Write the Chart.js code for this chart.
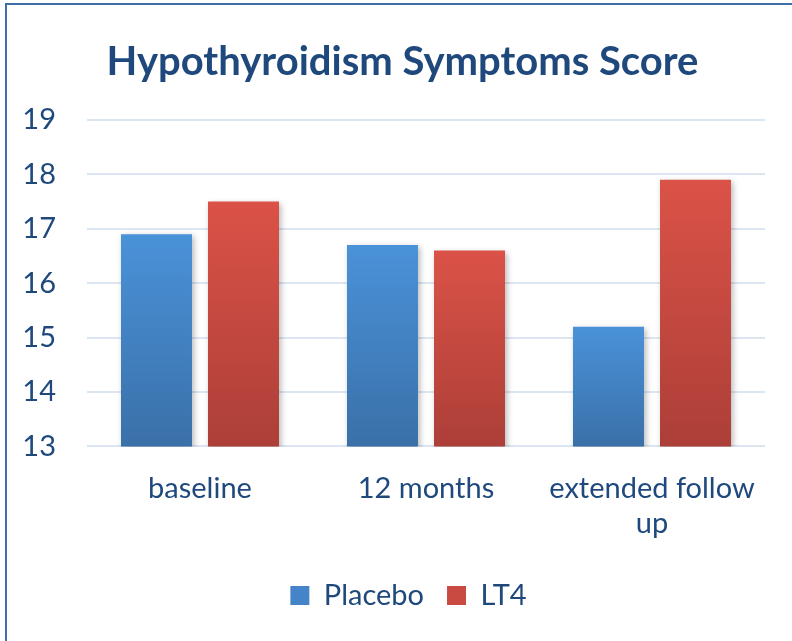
<!DOCTYPE html>
<html>
<head>
<meta charset="utf-8">
<script src="https://cdn.jsdelivr.net/npm/chart.js@4/dist/chart.umd.min.js"></script>
<style>
  html, body { margin: 0; padding: 0; background: #fff; width: 792px; height: 641px; overflow: hidden; }
  #frame { position: absolute; left: 5px; top: 3px; width: 900px; height: 800px;
           border-top: 2px solid #3F6FA6; border-left: 2px solid #3F6FA6; }
  #c { position: absolute; left: 0; top: 0; }
</style>
</head>
<body>
<div id="frame"></div>
<canvas id="c" width="792" height="641"></canvas>
<script>
const categories = ["baseline", "12 months", ["extended follow", "up"]];
const placeboValues = [16.9, 16.7, 15.2];
const lt4Values = [17.5, 16.6, 17.9];
const yTicks = [13, 14, 15, 16, 17, 18, 19];
const seriesNames = ["Placebo", "LT4"];

const TEXT = "#1F497D";
const FONT = "Lato, 'Open Sans', sans-serif";

function barGradient(top, bottom) {
  return function (ctx) {
    const chart = ctx.chart;
    if (!chart.chartArea || ctx.type !== 'data') return top;
    const ys = chart.scales.y;
    const yTop = ys.getPixelForValue(ctx.parsed.y);
    const yBot = ys.getPixelForValue(yTicks[0]);
    const g = chart.ctx.createLinearGradient(0, yTop, 0, yBot);
    g.addColorStop(0, top);
    g.addColorStop(1, bottom);
    return g;
  };
}

const shadowPlugin = {
  id: 'barShadow',
  beforeDatasetsDraw(chart) {
    const c = chart.ctx;
    c.save();
    c.shadowColor = 'rgba(0,0,0,0.28)';
    c.shadowBlur = 6;
    c.shadowOffsetX = 2;
    c.shadowOffsetY = 2;
  },
  afterDatasetsDraw(chart) {
    chart.ctx.restore();
  }
};

// nudge title and legend horizontally so they are centred like the reference
const boxShift = {
  id: 'boxShift',
  afterLayout(chart) {
    const t = chart.titleBlock;
    if (t) { t.left += 10; t.right += 10; }
    const l = chart.legend;
    if (l) {
      l.left += 16; l.right += 16;
      if (typeof l.adjustHitBoxes === 'function') l.adjustHitBoxes();
    }
  }
};

new Chart(document.getElementById('c'), {
  type: 'bar',
  data: {
    labels: categories,
    datasets: [
      { label: seriesNames[0], data: placeboValues,
        backgroundColor: barGradient('#4A92D9', '#3A70A8'),
        legendColor: '#4584C8' },
      { label: seriesNames[1], data: lt4Values,
        backgroundColor: barGradient('#DB5247', '#AC3F38'),
        legendColor: '#C94A41' }
    ]
  },
  plugins: [shadowPlugin, boxShift],
  options: {
    responsive: false,
    animation: false,
    categoryPercentage: 0.77,
    barPercentage: 0.816,
    layout: { padding: { left: 20, right: 27, top: 0, bottom: 21 } },
    plugins: {
      title: {
        display: true,
        text: 'Hypothyroidism Symptoms Score',
        color: TEXT,
        font: { family: FONT, size: 40, weight: 'bold' },
        padding: { top: 38, bottom: 34 }
      },
      legend: {
        position: 'bottom',
        labels: {
          color: TEXT,
          font: { family: FONT, size: 29 },
          boxWidth: 19,
          boxHeight: 19,
          padding: 23,
          generateLabels(chart) {
            return chart.data.datasets.map((ds, i) => ({
              text: ds.label,
              fillStyle: ds.legendColor,
              strokeStyle: ds.legendColor,
              lineWidth: 0,
              fontColor: TEXT,
              datasetIndex: i,
              hidden: false
            }));
          }
        }
      },
      tooltip: { enabled: false }
    },
    scales: {
      x: {
        grid: { display: false },
        border: { display: false },
        ticks: { color: TEXT, font: { family: FONT, size: 29 }, padding: 17, maxRotation: 0 }
      },
      y: {
        min: yTicks[0],
        max: yTicks[yTicks.length - 1],
        afterBuildTicks(scale) { scale.ticks = yTicks.map(v => ({ value: v })); },
        afterFit(scale) { scale.width = 67; },
        grid: { color: '#DCE6F2', lineWidth: 2, drawTicks: false },
        border: { display: false },
        ticks: { color: TEXT, font: { family: FONT, size: 29 }, padding: 31 }
      }
    }
  }
});
</script>
</body>
</html>
